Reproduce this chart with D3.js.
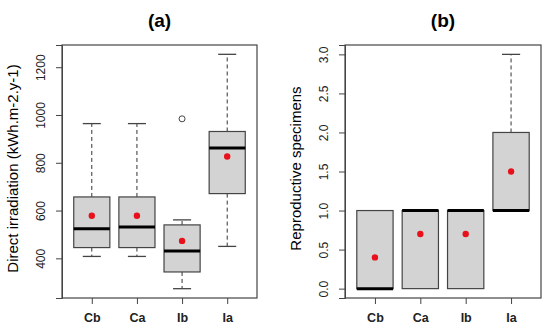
<!DOCTYPE html>
<html>
<head>
<meta charset="utf-8">
<script src="https://cdn.jsdelivr.net/npm/d3@7"></script>
<style>
  body { margin: 0; background: #fff; }
  svg { display: block; font-family: "Liberation Sans", Arial, sans-serif; }
</style>
</head>
<body>
<div id="chart"></div>
<script>
// groups shared by both panels
const groups = ["Cb", "Ca", "Ib", "Ia"];

// panel (a): direct irradiation
const irrLow = [408, 408, 273, 450];
const irrQ1 = [445, 445, 343, 671];
const irrMed = [524, 531, 431, 862];
const irrQ3 = [657, 657, 540, 931];
const irrHigh = [964, 964, 561, 1254];
const irrMean = [578, 578, 473, 826];
const irrOut = [[], [], [984], []];
const irrTicks = [400, 600, 800, 1000, 1200];

// panel (b): reproductive specimens
const repLow = [0, 0, 0, 1];
const repQ1 = [0, 0, 0, 1];
const repMed = [0, 1, 1, 1];
const repQ3 = [1, 1, 1, 2];
const repHigh = [1, 1, 1, 3];
const repMean = [0.4, 0.7, 0.7, 1.5];
const repOut = [[], [], [], []];
const repTicks = [0, 0.5, 1, 1.5, 2, 2.5, 3];

const W = 550, H = 333;
const svg = d3.select("#chart").append("svg")
  .attr("width", W)
  .attr("height", H);

function boxPanel(opts) {
  const { left, right, top, bottom, title, ylabel, yDomain, ticks, fmt,
    low, q1, med, q3, high, mean, out } = opts;

  const x = d3.scaleLinear().domain([0.34, 4.66]).range([left, right]);
  const y = d3.scaleLinear().domain(yDomain).range([bottom, top]);
  const g = svg.append("g");
  const bw = x(0.8) - x(0);

  const stats = groups.map((k, i) => ({
    i: i + 1, low: low[i], q1: q1[i], med: med[i], q3: q3[i], high: high[i], mean: mean[i], out: out[i]
  }));

  // whiskers (dashed) and caps
  stats.forEach(d => {
    const cx = x(d.i);
    if (d.high > d.q3) {
      g.append("line").attr("x1", cx).attr("x2", cx).attr("y1", y(d.q3)).attr("y2", y(d.high))
        .attr("stroke", "#333").attr("stroke-dasharray", "4,3");
      g.append("line").attr("x1", cx - bw / 4).attr("x2", cx + bw / 4).attr("y1", y(d.high)).attr("y2", y(d.high))
        .attr("stroke", "#444").attr("stroke-width", 1.3);
    }
    if (d.low < d.q1) {
      g.append("line").attr("x1", cx).attr("x2", cx).attr("y1", y(d.q1)).attr("y2", y(d.low))
        .attr("stroke", "#333").attr("stroke-dasharray", "4,3");
      g.append("line").attr("x1", cx - bw / 4).attr("x2", cx + bw / 4).attr("y1", y(d.low)).attr("y2", y(d.low))
        .attr("stroke", "#444").attr("stroke-width", 1.3);
    }
  });

  g.selectAll(".box")
    .data(stats)
    .join("rect")
    .attr("class", "box")
    .attr("x", d => x(d.i) - bw / 2)
    .attr("y", d => y(d.q3))
    .attr("width", bw)
    .attr("height", d => y(d.q1) - y(d.q3))
    .attr("fill", "#d3d3d3")
    .attr("stroke", "#444")
    .attr("stroke-width", 1.2);

  g.selectAll(".median")
    .data(stats)
    .join("line")
    .attr("class", "median")
    .attr("x1", d => x(d.i) - bw / 2)
    .attr("x2", d => x(d.i) + bw / 2)
    .attr("y1", d => y(d.med))
    .attr("y2", d => y(d.med))
    .attr("stroke", "#000")
    .attr("stroke-width", 3);

  stats.forEach(d => {
    d.out.forEach(v => {
      g.append("circle").attr("cx", x(d.i)).attr("cy", y(v)).attr("r", 3)
        .attr("fill", "none").attr("stroke", "#444").attr("stroke-width", 1);
    });
  });

  g.selectAll(".mean")
    .data(stats)
    .join("circle")
    .attr("class", "mean")
    .attr("cx", d => x(d.i))
    .attr("cy", d => y(d.mean))
    .attr("r", 3.2)
    .attr("fill", "#e8101a");

  // frame
  g.append("rect")
    .attr("x", left).attr("y", top)
    .attr("width", right - left).attr("height", bottom - top)
    .attr("fill", "none").attr("stroke", "#444").attr("stroke-width", 1.2);

  // y axis
  const ya = g.append("g")
    .attr("transform", `translate(${left},0)`)
    .call(d3.axisLeft(y).tickValues(ticks).tickFormat(fmt).tickSize(6).tickPadding(14));
  ya.select(".domain").attr("stroke", "#444");
  ya.selectAll(".tick line").attr("stroke", "#444");
  ya.selectAll(".tick text")
    .attr("transform", "rotate(-90)")
    .attr("x", 0).attr("y", -21).attr("dy", "0.35em")
    .attr("text-anchor", "middle")
    .attr("font-size", 12).attr("fill", "#222")
    .attr("font-family", "Liberation Sans, Arial, sans-serif");

  // x axis
  const xa = g.append("g")
    .attr("transform", `translate(0,${bottom})`)
    .call(d3.axisBottom(x).tickValues([1, 2, 3, 4]).tickFormat((d, i) => groups[i]).tickSize(6).tickPadding(9));
  xa.select(".domain").remove();
  xa.selectAll(".tick line").attr("stroke", "#444");
  xa.selectAll(".tick text")
    .attr("font-size", 12.5).attr("font-weight", "bold").attr("fill", "#222")
    .attr("font-family", "Liberation Sans, Arial, sans-serif");

  g.append("text")
    .attr("x", (left + right) / 2).attr("y", 27)
    .attr("text-anchor", "middle")
    .attr("font-size", 19).attr("font-weight", "bold")
    .text(title);

  g.append("text")
    .attr("transform", `translate(${left - 44},${(top + bottom) / 2 - 3}) rotate(-90)`)
    .attr("text-anchor", "middle")
    .attr("font-size", 15)
    .text(ylabel);
}

boxPanel({
  left: 62, right: 257, top: 45, bottom: 298,
  title: "(a)", ylabel: "Direct irradiation (kWh.m-2.y-1)",
  yDomain: [234, 1293], ticks: irrTicks, fmt: d3.format("d"),
  low: irrLow, q1: irrQ1, med: irrMed, q3: irrQ3, high: irrHigh, mean: irrMean, out: irrOut
});

boxPanel({
  left: 345, right: 541, top: 45, bottom: 298,
  title: "(b)", ylabel: "Reproductive specimens",
  yDomain: [-0.12, 3.12], ticks: repTicks, fmt: d3.format(".1f"),
  low: repLow, q1: repQ1, med: repMed, q3: repQ3, high: repHigh, mean: repMean, out: repOut
});
</script>
</body>
</html>
